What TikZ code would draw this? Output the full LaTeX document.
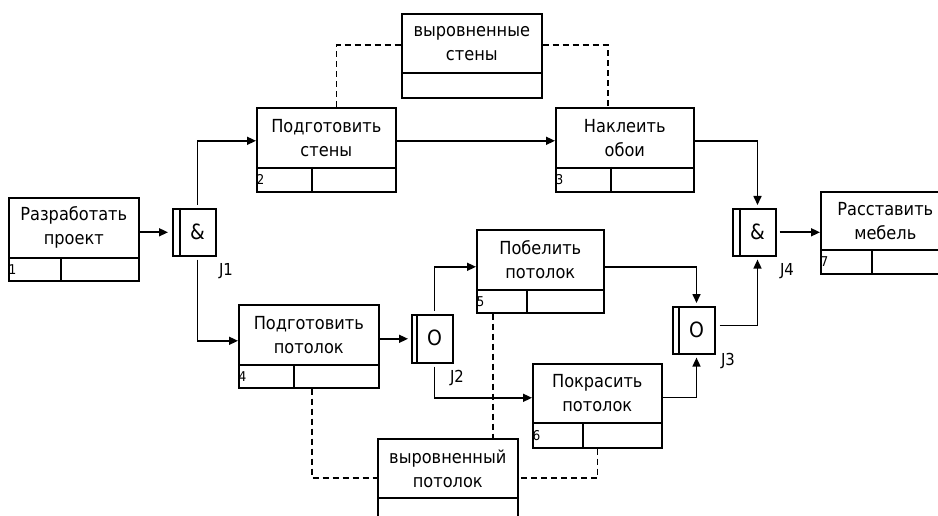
\documentclass[tikz,border=0pt]{standalone}
\usepackage{fontspec}
\setmainfont{DejaVu Sans Condensed}
\usetikzlibrary{arrows.meta}

\newcommand{\boxfont}{\fontsize{18}{24}\selectfont}
\newcommand{\numfont}{\fontsize{13.5}{15}\selectfont}
\newcommand{\lblfont}{\fontsize{16.5}{18}\selectfont}
\newcommand{\symfont}{\fontsize{21}{23}\selectfont}

\tikzset{
  ln/.style={line width=1.6pt},
  box/.style={draw, ln, inner sep=0pt, anchor=north west, align=center, font=\boxfont},
  numlbl/.style={anchor=west, inner sep=0.5pt, font=\numfont},
  jlbl/.style={inner sep=0pt, font=\lblfont},
  jsym/.style={inner sep=0pt, font=\symfont},
  arr/.style={ln, -{Triangle[length=9pt,width=8pt]}},
  objlink/.style={ln, dash pattern=on 6pt off 4pt},
}

% unit of behaviour: name, left, top, right, bottom, divider y, split x, number, text
\newcommand{\uob}[9]{%
  \node[box, minimum width={(#4)-(#2)}, minimum height={(#6)-(#3)}] (#1) at (#2,#3) {#9};
  \node[box, minimum width={(#4)-(#2)}, minimum height={(#5)-(#6)}] (#1l) at (#2,#6) {};
  \draw[ln] (#7,#6) -- (#7,#5);
  \node[numlbl] at (#1l.west) {#8};
}
% referent: name, left, top, right, bottom, divider y, text
\newcommand{\referent}[7]{%
  \node[box, minimum width={(#4)-(#2)}, minimum height={(#6)-(#3)}] (#1) at (#2,#3) {#7};
  \node[box, minimum width={(#4)-(#2)}, minimum height={(#5)-(#6)}] (#1l) at (#2,#6) {};
}
% junction: name, left, top, right, bottom, bar x, symbol
\newcommand{\junction}[7]{%
  \node[box, minimum width={(#4)-(#2)}, minimum height={(#5)-(#3)}] (#1) at (#2,#3) {};
  \draw[ln] (#6,#3) -- (#6,#5);
  \node[jsym] (#1-sym) at ({(#6+#4)/2},{(#3+#5)/2}) {#7};
}

\begin{document}
\begin{tikzpicture}[x=1pt,y=-1pt]
\useasboundingbox (0,0) rectangle (938,516);
\clip (0,0) rectangle (938,516);

% units of behaviour
\uob{p1}{8}{197}{138}{280}{257}{61}{1}{Разработать\\проект}
\uob{p2}{256}{107}{395}{191}{167}{312}{2}{Подготовить\\стены}
\uob{p3}{555}{107}{693}{191}{167}{611}{3}{Наклеить\\обои}
\uob{p4}{238}{304}{378}{387}{364}{294}{4}{Подготовить\\потолок}
\uob{p5}{476}{229}{603}{312}{289}{527}{5}{Побелить\\потолок}
\uob{p6}{532}{363}{661}{447}{422}{583}{6}{Покрасить\\потолок}
\uob{p7}{820}{191}{949}{273}{249}{872}{7}{Расставить\\мебель}

% referents
\referent{o1}{401}{13}{541}{97}{72}{выровненные\\стены}
\referent{o2}{377}{438}{517}{530}{497}{выровненный\\потолок}

% junctions
\junction{j1}{172}{208}{215}{255}{180}{\&}
\junction{j2}{411}{314}{452}{362}{417}{O}
\junction{j3}{672}{306}{714}{353}{679}{O}
\junction{j4}{732}{208}{775}{255}{740}{\&}

\node[jlbl] (j1-lbl) at (226,271) {J1};
\node[jlbl] (j2-lbl) at (457,378) {J2};
\node[jlbl] (j3-lbl) at (728,361) {J3};
\node[jlbl] (j4-lbl) at (787,271) {J4};

% precedence links
\draw[arr] (p1.east |- j1.west) -- ([xshift=-4pt]j1.west);
\draw[arr] ([yshift=3pt]j1-sym |- j1.north) |- ([yshift=-3pt]p2.west);
\draw[arr] ([yshift=-3pt]j1-sym |- j1.south) |- ([yshift=-6pt]p4.west);
\draw[arr] ([yshift=-3pt]p2.east) -- ([yshift=-3pt]p3.west);
\draw[arr] ([yshift=-3pt]p3.east) -| ([yshift=3pt]j4-sym |- j4.north);
\draw[arr] ([xshift=3pt]j4.east) -- (j4.east -| p7.west);
\draw[arr] (p4.east |- j2.west) -- ([xshift=-3pt]j2.west);
\draw[arr] ([yshift=3pt]j2-sym |- j2.north) |- ([yshift=-7pt]p5.west);
\draw[arr] ([yshift=-3pt]j2-sym |- j2.south) |- ([yshift=-4.5pt]p6.west);
\draw[arr] ([yshift=-7pt]p5.east) -| ([yshift=3pt]j3-sym |- j3.north);
\draw[arr] ([yshift=-4pt]p6.east) -| ([yshift=-3pt]j3-sym |- j3.south);
\draw[arr] ([xshift=4pt,yshift=5pt]j3.east) -| ([yshift=-3pt]j4-sym |- j4.south);

% object links
\draw[objlink] ([xshift=10pt]p2.north) |- ([yshift=-2pt]o1.west);
\draw[objlink] ([yshift=-2pt]o1.east) -| ([xshift=-17pt]p3.north);
\draw[objlink] ([xshift=3pt]p4l.south) |- ([yshift=-9.5pt]o2.west);
\draw[objlink] (p6l.south) |- ([yshift=-9.5pt]o2.east);
\draw[objlink] ([xshift=-47.5pt]p5l.south) -- ([xshift=-47.5pt]p5l.south |- o2.north);
\end{tikzpicture}
\end{document}
